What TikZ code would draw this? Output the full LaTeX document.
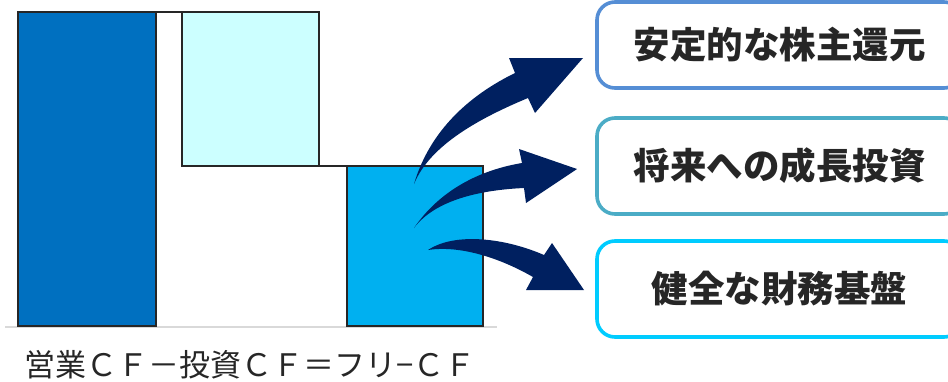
\documentclass[tikz,border=0pt]{standalone}
\usepackage{fontspec}
\newfontfamily\jp{Noto Sans CJK JP}
\definecolor{opcf}{HTML}{0070C0}
\definecolor{invcf}{HTML}{CCFFFF}
\definecolor{freecf}{HTML}{00B0F0}
\definecolor{navy}{HTML}{002060}
\definecolor{boxa}{HTML}{558ED5}
\definecolor{boxb}{HTML}{4BACC6}
\definecolor{boxc}{HTML}{00CCFF}
\definecolor{txt}{HTML}{262626}
\definecolor{base}{HTML}{D9D9D9}
\tikzset{
  bar/.style={draw=txt, line width=1.2pt, anchor=north west, inner sep=0pt, outer sep=0pt},
  link/.style={draw=txt, line width=1.2pt},
  goalbox/.style={draw, line width=3.6pt, rounded corners=18pt, fill=white, minimum width=365pt, inner sep=0pt, text=txt, font=\jp\bfseries\fontsize{36.5}{36.5}\selectfont},
  flow/.style={fill=navy, draw=none}
}
\begin{document}
\begin{tikzpicture}[x=1pt,y=-1pt]
\useasboundingbox (0,0) rectangle (948,381);
\draw[base, line width=1.6pt] (5,327) -- (497,327);
\node[bar, fill=opcf, minimum width=138pt, minimum height=314pt] (op) at (18,12) {};
\node[bar, fill=invcf, minimum width=137pt, minimum height=154pt] (inv) at (182,12) {};
\node[bar, fill=freecf, minimum width=136pt, minimum height=160pt] (free) at (347,166) {};
\draw[link] (op.north east) -- (inv.north west);
\draw[link] (inv.south east) -- (free.north west);
\node[goalbox, draw=boxa, minimum height=86pt] (g1) at (779.5,45) {安定的な株主還元};
\node[goalbox, draw=boxb, minimum height=96pt] (g2) at (779.5,166) {将来への成長投資};
\node[goalbox, draw=boxc, minimum height=96pt] (g3) at (779.5,289) {健全な財務基盤};
\fill[flow] (414,184) .. controls (430,130) and (470,95) .. (515,73) -- (509,58) -- (583,58) -- (535,113) -- (528,98) .. controls (480,118) and (430,145) .. (414,184) -- cycle;
\fill[flow] (414,228) .. controls (440,190) and (480,170) .. (522,163) -- (519,149) -- (577,169) -- (526,203) -- (524,188) .. controls (480,190) and (435,200) .. (414,228) -- cycle;
\fill[flow] (428,250) .. controls (455,232) and (505,238) .. (544,255) -- (552,243) -- (584,290) -- (526,290) -- (533,277) .. controls (500,258) and (460,245) .. (428,250) -- cycle;
\node[font=\jp\fontsize{31}{31}\selectfont, text=txt, inner sep=0pt] (eq) at (250,365) {営業ＣＦ－投資ＣＦ＝フリ−ＣＦ};
\end{tikzpicture}
\end{document}
